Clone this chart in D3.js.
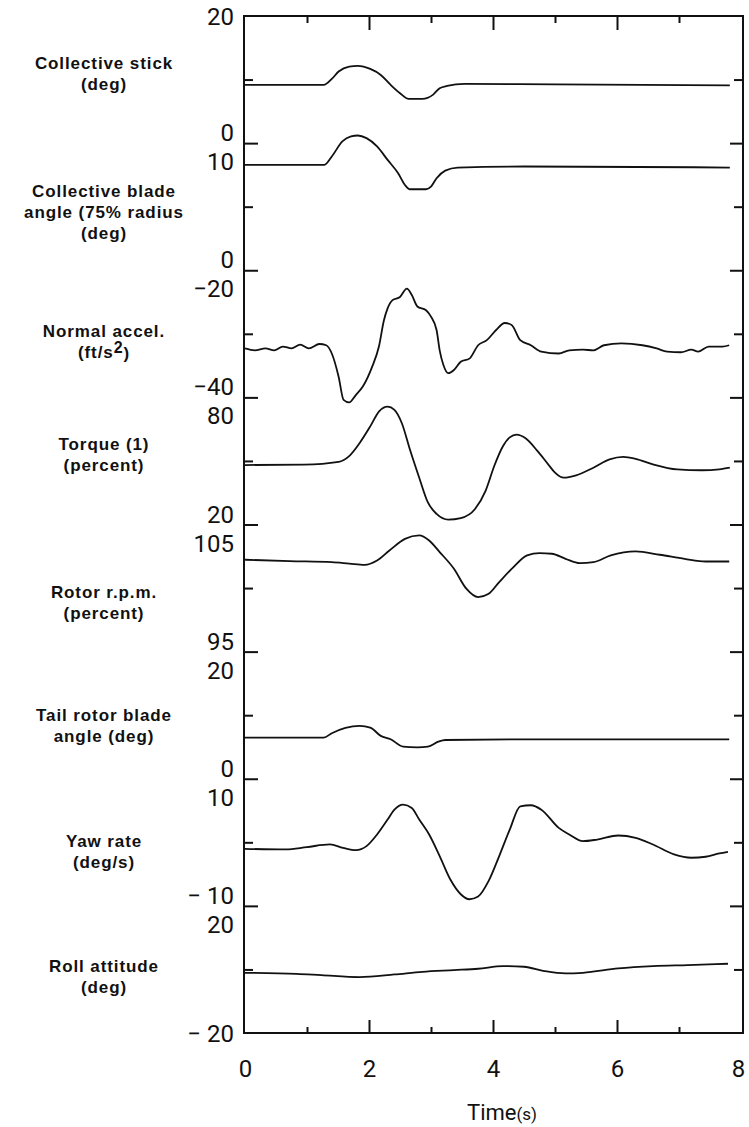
<!DOCTYPE html>
<html>
<head>
<meta charset="utf-8">
<script src="https://cdn.jsdelivr.net/npm/d3@7"></script>
<style>
  body { margin: 0; background: #fff; }
  text { fill: #111; }
</style>
</head>
<body>
<svg id="chart" width="749" height="1127"></svg>
<script>
// time axis
var timeTicks = [0, 1, 2, 3, 4, 5, 6, 7, 8];
var timeLabels = [0, 2, 4, 6, 8];

// panels, top to bottom
var panelNames = [
  ["Collective stick", "(deg)"],
  ["Collective blade", "angle (75% radius", "(deg)"],
  ["Normal accel.", "(ft/s2)"],
  ["Torque (1)", "(percent)"],
  ["Rotor r.p.m.", "(percent)"],
  ["Tail rotor blade", "angle (deg)"],
  ["Yaw rate", "(deg/s)"],
  ["Roll attitude", "(deg)"]
];
var panelDomains = [[0, 20], [0, 10], [-40, -20], [20, 80], [95, 105], [0, 20], [-10, 10], [-20, 20]];
var panelTickLabels = [
  ["20", "0"], ["10", "0"], ["\u221220", "\u221240"], ["80", "20"],
  ["105", "95"], ["20", "0"], ["10", "\u2212 10"], ["20", "\u2212 20"]
];

// traces [time s, value]
var collectiveStick = [[0,9.15],[1.27,9.15],[1.40,10.1],[1.51,11.26],[1.68,12.04],[1.82,12.15],[2.02,11.67],[2.19,10.73],[2.35,9.15],[2.50,7.85],[2.64,6.96],[2.86,6.96],[3.03,7.59],[3.14,8.64],[3.26,9.0],[3.54,9.32],[5.0,9.25],[7.82,9.1]];
var bladeAngle = [[0,8.29],[1.28,8.29],[1.40,8.95],[1.57,10.13],[1.71,10.53],[1.82,10.6],[1.96,10.39],[2.13,9.74],[2.30,8.68],[2.47,7.63],[2.58,6.71],[2.66,6.37],[2.92,6.37],[3.0,6.58],[3.09,7.24],[3.23,7.84],[3.43,8.08],[4.5,8.16],[7.82,8.08]];
var normalAccel = [[0,-32.3],[0.16,-32.6],[0.33,-32.3],[0.47,-32.6],[0.61,-32.0],[0.75,-32.3],[0.89,-31.7],[1.03,-32.3],[1.20,-31.6],[1.31,-31.8],[1.40,-33.1],[1.51,-36.75],[1.59,-40.4],[1.68,-40.8],[1.79,-39.6],[1.90,-38.3],[2.05,-35.2],[2.16,-32.0],[2.24,-27.9],[2.30,-26.0],[2.38,-24.7],[2.50,-24.2],[2.61,-22.9],[2.69,-23.9],[2.78,-25.7],[2.92,-26.3],[3.0,-27.3],[3.09,-29.4],[3.14,-32.6],[3.2,-34.9],[3.28,-36.2],[3.37,-35.7],[3.48,-34.4],[3.62,-33.9],[3.76,-31.8],[3.9,-31.0],[4.05,-29.4],[4.19,-28.3],[4.3,-28.6],[4.44,-31.0],[4.61,-31.8],[4.78,-32.8],[5.06,-33.1],[5.23,-32.6],[5.45,-32.5],[5.62,-32.6],[5.79,-31.8],[6.07,-31.5],[6.41,-31.8],[6.64,-32.3],[6.81,-32.8],[7.03,-32.9],[7.2,-32.5],[7.31,-32.8],[7.48,-32.0],[7.7,-32.0],[7.81,-31.8]];
var torque = [[0,48.05],[0.95,48.3],[1.51,49.6],[1.68,52.3],[1.85,58.5],[2.02,66.3],[2.16,73.3],[2.30,75.6],[2.41,74.1],[2.53,67.8],[2.66,55.4],[2.81,42.1],[2.95,30.4],[3.09,25.0],[3.28,22.3],[3.48,23.0],[3.71,27.3],[3.88,35.9],[4.02,47.6],[4.16,56.9],[4.27,61.1],[4.38,62.4],[4.52,60.8],[4.72,54.6],[4.89,48.4],[5.0,44.5],[5.14,42.1],[5.34,43.2],[5.62,46.8],[5.88,50.7],[6.1,51.9],[6.3,51.0],[6.58,48.4],[6.97,46.0],[7.37,45.6],[7.65,46.0],[7.82,46.8]];
var rotorRpm = [[0,102.23],[0.72,102.12],[1.4,102.04],[1.68,101.93],[1.93,101.83],[2.13,102.17],[2.33,102.96],[2.58,103.87],[2.81,104.14],[2.97,103.74],[3.14,102.83],[3.37,101.52],[3.57,99.95],[3.76,99.29],[3.93,99.55],[4.1,100.47],[4.33,101.65],[4.55,102.57],[4.75,102.75],[4.95,102.7],[5.17,102.3],[5.4,101.96],[5.62,102.04],[5.9,102.57],[6.3,102.88],[6.69,102.62],[7.09,102.3],[7.43,102.09],[7.81,102.09]];
var tailRotor = [[0,6.47],[1.27,6.47],[1.4,7.16],[1.62,8.0],[1.85,8.32],[2.02,8.05],[2.19,6.74],[2.35,6.21],[2.55,5.05],[2.78,4.95],[2.95,5.05],[3.12,5.84],[3.23,6.1],[4.61,6.21],[7.81,6.21]];
var yawRate = [[0,-1.02],[0.66,-1.12],[1.0,-0.75],[1.37,-0.34],[1.58,-0.86],[1.79,-1.23],[1.96,-0.6],[2.13,1.23],[2.30,3.58],[2.41,5.14],[2.55,5.93],[2.69,5.4],[2.81,3.58],[2.97,1.23],[3.14,-2.17],[3.31,-5.82],[3.48,-8.17],[3.62,-8.96],[3.76,-8.54],[3.93,-6.08],[4.1,-2.17],[4.27,2.0],[4.44,5.67],[4.61,5.83],[4.78,5.14],[5.06,2.27],[5.23,1.23],[5.45,0.18],[5.68,0.44],[6.02,1.07],[6.3,0.7],[6.58,-0.34],[6.92,-1.9],[7.2,-2.43],[7.43,-2.27],[7.65,-1.75],[7.79,-1.49]];
var rollAttitude = [[0,-1.05],[0.83,-1.37],[1.23,-1.79],[1.85,-2.42],[2.41,-1.58],[2.86,-0.74],[3.37,-0.21],[3.76,0.21],[4.16,1.05],[4.5,0.84],[4.83,-0.53],[5.17,-1.26],[5.45,-1.05],[6.02,0.32],[6.58,1.05],[7.14,1.37],[7.79,1.79]];

var traces = [collectiveStick, bladeAngle, normalAccel, torque, rotorRpm, tailRotor, yawRate, rollAttitude];

// layout
var frameLeft = 244, frameRight = 743, frameTop = 16, frameBottom = 1033;
var panelH = (frameBottom - frameTop) / panelNames.length;
var nameDy = [-6, 5, 8, -6, 14, 10, 9, 7];   // name block offset from panel centre
var digitFont = "Roboto, 'DejaVu Sans', sans-serif";
var nameFont = "'Liberation Sans', Arial, sans-serif";

var svg = d3.select("#chart");

var x = d3.scaleLinear().domain([0, 8]).range([245, 741]);

var line = d3.line().curve(d3.curveMonotoneX);

function noDomain(g) { g.select(".domain").remove(); }

panelNames.forEach(function(names, i) {
  var y0 = frameTop + i * panelH, y1 = y0 + panelH;
  var dom = panelDomains[i];
  var y = d3.scaleLinear().domain(dom).range([y1, y0]);
  var mid = (dom[0] + dom[1]) / 2;
  var last = i == panelNames.length - 1;

  // mid ticks, both sides
  svg.append("g").attr("transform", "translate(" + frameLeft + ",0)")
    .call(d3.axisLeft(y).tickValues([mid]).tickSize(-9).tickFormat(""))
    .call(noDomain);
  svg.append("g").attr("transform", "translate(" + frameRight + ",0)")
    .call(d3.axisRight(y).tickValues([mid]).tickSize(-9).tickFormat(""))
    .call(noDomain);

  // panel boundary ticks
  if (!last) {
    svg.append("g").attr("transform", "translate(" + frameLeft + ",0)")
      .call(d3.axisLeft(y).tickValues([dom[0]]).tickSize(-14).tickFormat(""))
      .call(noDomain);
    svg.append("g").attr("transform", "translate(" + frameRight + ",0)")
      .call(d3.axisRight(y).tickValues([dom[0]]).tickSize(-13).tickFormat(""))
      .call(noDomain);
  }

  // scale end labels
  var lab = panelTickLabels[i];
  svg.append("text")
    .attr("x", 234).attr("y", i == 0 ? y(dom[1]) : y(dom[1]) + 27)
    .attr("dy", i == 0 ? "0.36em" : 0)
    .attr("text-anchor", "end")
    .style("font-family", digitFont).style("font-size", "24px")
    .text(lab[0]);
  svg.append("text")
    .attr("x", 234).attr("y", last ? y(dom[0]) : y(dom[0]) - 2)
    .attr("dy", last ? "0.36em" : 0)
    .attr("text-anchor", "end")
    .style("font-family", digitFont).style("font-size", "24px")
    .text(lab[1]);

  // panel name
  var cy = (y0 + y1) / 2 + nameDy[i] - (names.length - 1) * 10.5;
  names.forEach(function(s, k) {
    var t = svg.append("text")
      .attr("x", 104).attr("y", cy + k * 21)
      .attr("dy", "0.35em")
      .attr("text-anchor", "middle")
      .style("font-family", nameFont).style("font-size", "17px")
      .style("font-weight", "bold").style("letter-spacing", "0.9px");
    if (s == "(ft/s2)") {
      t.append("tspan").text("(ft/s");
      t.append("tspan").attr("dy", "-0.3em").style("font-size", "16px").text("2");
      t.append("tspan").attr("dy", "0.3em").text(")");
    } else {
      t.text(s);
    }
  });

  // trace
  line.x(function(d){ return x(d[0]); }).y(function(d){ return y(d[1]); });
  svg.append("path")
    .datum(traces[i])
    .attr("d", line)
    .attr("fill", "none")
    .attr("stroke", "#111")
    .attr("stroke-width", 1.8)
    .attr("stroke-linejoin", "round");
});

// time ticks on top and bottom edges
var odd = timeTicks.filter(function(t){ return t % 2 == 1; });
var even = timeTicks.filter(function(t){ return t % 2 == 0 && t > 0 && t < 8; });
[[odd, 7], [even, 14]].forEach(function(p) {
  svg.append("g").attr("transform", "translate(0," + frameTop + ")")
    .call(d3.axisTop(x).tickValues(p[0]).tickSize(-p[1]).tickFormat(""))
    .call(noDomain);
  svg.append("g").attr("transform", "translate(0," + frameBottom + ")")
    .call(d3.axisBottom(x).tickValues(p[0]).tickSize(-(p[1] - 1)).tickFormat(""))
    .call(noDomain);
});
svg.selectAll(".tick line").attr("stroke", "#111").attr("stroke-width", 2);

// frame
svg.append("rect")
  .attr("x", frameLeft).attr("y", frameTop)
  .attr("width", frameRight - frameLeft).attr("height", frameBottom - frameTop)
  .attr("fill", "none").attr("stroke", "#111").attr("stroke-width", 2);

// time labels
svg.append("g").attr("transform", "translate(0," + frameBottom + ")")
  .call(d3.axisBottom(x).tickValues(timeLabels).tickSize(0).tickPadding(27))
  .call(function(g){
    noDomain(g);
    g.selectAll("text").style("font-family", digitFont).style("font-size", "24px").attr("fill", "#111");
  });
svg.selectAll(".tick text").filter(function(d){ return d == 8; }).attr("dx", "-3");

var tt = svg.append("text")
  .attr("x", 502).attr("y", 1120)
  .attr("text-anchor", "middle")
  .style("font-family", digitFont).style("font-size", "22px");
tt.append("tspan").text("Time");
tt.append("tspan").style("font-size", "17px").text("(s)");
</script>
</body>
</html>
